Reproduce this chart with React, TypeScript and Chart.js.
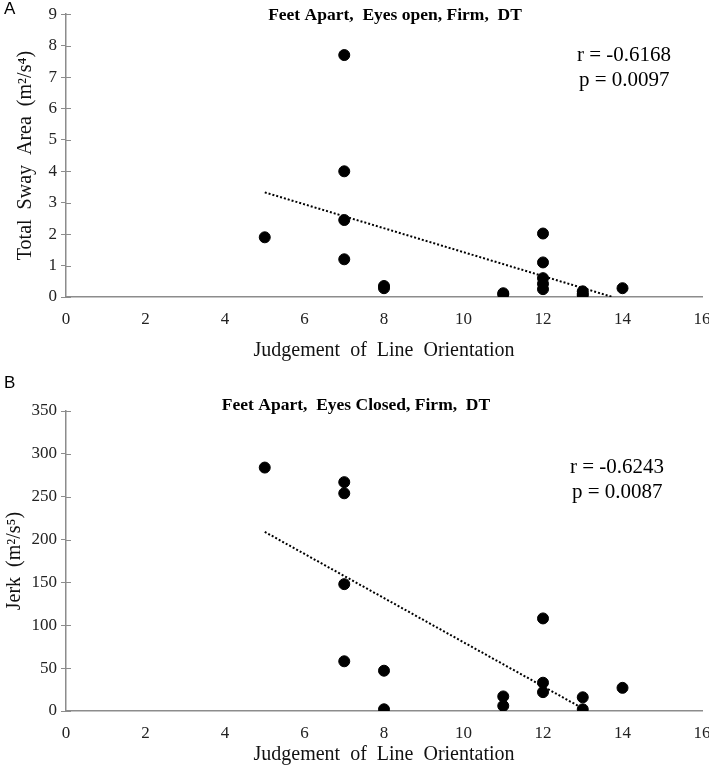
import React, { useEffect, useRef } from "react";
import { Chart, registerables } from "chart.js";

Chart.register(...registerables);

// ---------- Data ----------
// Panel A: Feet Apart, Eyes open, Firm, DT
const jloA = [5, 7, 7, 7, 7, 8, 8, 11, 11, 12, 12, 12, 12, 12, 13, 13, 13, 14];
const swayA = [1.9, 7.7, 4.0, 2.45, 1.2, 0.35, 0.28, 0.12, 0.08, 2.02, 1.1, 0.6, 0.42, 0.25, 0.18, 0.1, 0.05, 0.28];
const trendAx = [5, 13.75];
const trendAy = [3.33, 0];
const titleA = "Feet Apart,  Eyes open, Firm,  DT";
const statsA = ["r = -0.6168", "p = 0.0097"];
const yTitleA = "Total  Sway  Area  (m²/s⁴)";

// Panel B: Feet Apart, Eyes Closed, Firm, DT
const jloB = [5, 7, 7, 7, 7, 8, 8, 11, 11, 12, 12, 12, 13, 13, 14];
const jerkB = [284, 267, 254, 148, 58, 47, 2, 17, 6, 108, 33, 22, 16, 2, 27];
const trendBx = [5, 13];
const trendBy = [209, 3];
const titleB = "Feet Apart,  Eyes Closed, Firm,  DT";
const statsB = ["r = -0.6243", "p = 0.0087"];
const yTitleB = "Jerk  (m²/s⁵)";

const xTitle = "Judgement  of  Line  Orientation";
const xMax = 16;
const xStep = 2;

const SERIF = "'Liberation Serif', 'Times New Roman', serif";
const AXIS_GRAY = "#8c8c8c";

type PanelCfg = {
  letter: string;
  letterY: number;
  title: string;
  titleX: number;
  titleY: number;
  stats: string[];
  statsX: number;
  statsY: number;
  xs: number[];
  ys: number[];
  tx: number[];
  ty: number[];
  yMax: number;
  yStep: number;
  yTitle: string;
  yTitlePad: number;
  height: number;
  padTop: number;
  xAxisH: number;
  xTitlePad: number;
};

function Panel({ cfg }: { cfg: PanelCfg }) {
  const ref = useRef<HTMLCanvasElement | null>(null);
  useEffect(() => {
    if (!ref.current) return;
    const pts = cfg.xs.map((x, i) => ({ x, y: cfg.ys[i] }));
    const trend = cfg.tx.map((x, i) => ({ x, y: cfg.ty[i] }));
    const textPlugin = {
      id: "panelTexts",
      afterDraw(chart: any) {
        const ctx = chart.ctx;
        const yScale = chart.scales.y;
        const area = chart.chartArea;
        ctx.save();
        // inner tick stubs on y axis
        ctx.strokeStyle = AXIS_GRAY;
        ctx.lineWidth = 1;
        yScale.ticks.forEach((t: any) => {
          const py = Math.round(yScale.getPixelForValue(t.value)) + 0.5;
          ctx.beginPath();
          ctx.moveTo(area.left, py);
          ctx.lineTo(area.left + 5, py);
          ctx.stroke();
        });
        // panel letter
        ctx.fillStyle = "#000";
        ctx.font = "17px 'Liberation Sans', Arial, sans-serif";
        ctx.textAlign = "left";
        ctx.textBaseline = "middle";
        ctx.fillText(cfg.letter, 4, cfg.letterY);
        // title
        ctx.font = "bold 17.5px " + SERIF;
        ctx.textAlign = "center";
        ctx.fillText(cfg.title, cfg.titleX, cfg.titleY);
        // stats
        ctx.font = "21px " + SERIF;
        ctx.textAlign = "left";
        cfg.stats.forEach((s, i) => {
          ctx.fillText(s, cfg.statsX + (i === 1 ? 2 : 0), cfg.statsY + i * 25);
        });
        ctx.restore();
      },
    };
    const chart = new Chart(ref.current, {
      type: "scatter",
      data: {
        datasets: [
          {
            label: "data",
            data: pts,
            backgroundColor: "#000",
            borderColor: "#000",
            pointRadius: 5.5,
            pointHoverRadius: 5.5,
          },
          {
            label: "trend",
            type: "line",
            data: trend,
            showLine: true,
            borderColor: "#000",
            borderWidth: 2,
            borderDash: [2, 2],
            pointRadius: 0,
            fill: false,
          } as any,
        ],
      },
      options: {
        responsive: false,
        animation: false,
        devicePixelRatio: 1,
        layout: { padding: { top: cfg.padTop, right: 7, left: 0, bottom: 0 } },
        plugins: {
          legend: { display: false },
          tooltip: { enabled: false },
          title: { display: false },
        },
        scales: {
          x: {
            type: "linear",
            min: 0,
            max: xMax,
            afterFit: (s: any) => {
              s.height = cfg.xAxisH;
              s.paddingLeft = 0;
              s.paddingRight = 0;
            },
            ticks: {
              stepSize: xStep,
              color: "#222",
              padding: 4,
              font: { family: SERIF, size: 17 },
              maxRotation: 0,
            },
            grid: { display: false },
            border: { display: true, color: AXIS_GRAY, width: 1.5 },
            title: {
              display: true,
              text: xTitle,
              color: "#111",
              font: { family: SERIF, size: 20 },
              padding: { top: 0, bottom: cfg.xTitlePad },
            },
          },
          y: {
            type: "linear",
            min: 0,
            max: cfg.yMax,
            afterFit: (s: any) => {
              s.width = 66;
            },
            ticks: {
              stepSize: cfg.yStep,
              color: "#222",
              padding: 4,
              font: { family: SERIF, size: 17 },
            },
            grid: {
              display: true,
              drawOnChartArea: false,
              drawTicks: true,
              tickLength: 5,
              color: AXIS_GRAY,
            },
            border: { display: true, color: AXIS_GRAY, width: 1.5 },
            title: {
              display: true,
              text: cfg.yTitle,
              color: "#111",
              font: { family: SERIF, size: 20 },
              padding: { top: cfg.yTitlePad, bottom: 0 },
            },
          },
        },
      },
      plugins: [textPlugin],
    });
    return () => chart.destroy();
  }, [cfg]);
  return <canvas ref={ref} width={709} height={cfg.height} style={{ display: "block" }} />;
}

const panelA: PanelCfg = {
  letter: "A",
  letterY: 9,
  title: titleA,
  titleX: 395,
  titleY: 15,
  stats: statsA,
  statsX: 577,
  statsY: 55,
  xs: jloA,
  ys: swayA,
  tx: trendAx,
  ty: trendAy,
  yMax: 9,
  yStep: 1,
  yTitle: yTitleA,
  yTitlePad: 14,
  height: 372,
  padTop: 9,
  xAxisH: 75,
  xTitlePad: 9,
};

const panelB: PanelCfg = {
  letter: "B",
  letterY: 11,
  title: titleB,
  titleX: 356,
  titleY: 33,
  stats: statsB,
  statsX: 570,
  statsY: 95,
  xs: jloB,
  ys: jerkB,
  tx: trendBx,
  ty: trendBy,
  yMax: 350,
  yStep: 50,
  yTitle: yTitleB,
  yTitlePad: 3,
  height: 398,
  padTop: 39,
  xAxisH: 59,
  xTitlePad: 3,
};

export default function App() {
  return (
    <div style={{ position: "absolute", top: 0, left: 0, width: 709, height: 770, background: "#fff" }}>
      <Panel cfg={panelA} />
      <Panel cfg={panelB} />
    </div>
  );
}
